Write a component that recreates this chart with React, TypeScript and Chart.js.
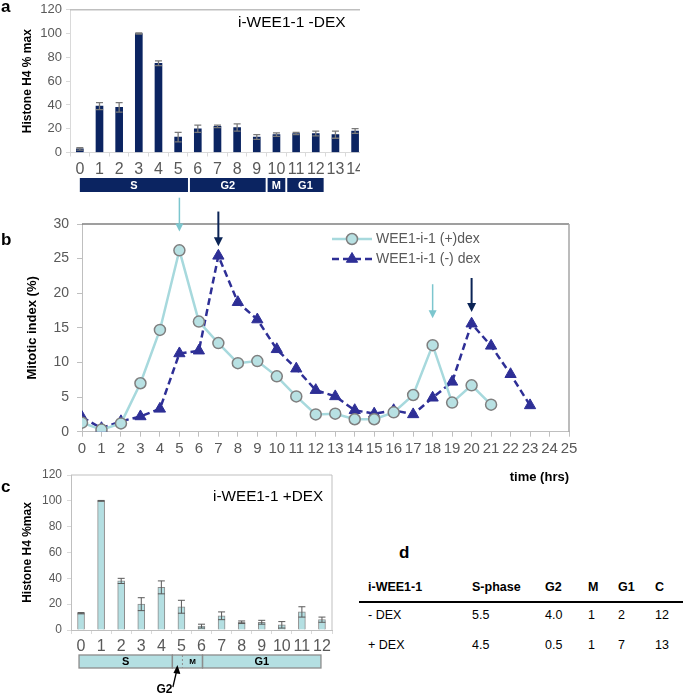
import React, { useEffect, useRef } from 'react';
import { Chart, registerables } from 'chart.js';
Chart.register(...registerables);

const FONT = "'Liberation Sans', Arial, sans-serif";
Chart.defaults.font.family = FONT;

// ---------- Panel a ----------
const hoursA = ['0', '1', '2', '3', '4', '5', '6', '7', '8', '9', '10', '11', '12', '13', '14'];
const h4MinusDex = [3, 39, 38, 100, 75, 13, 20, 22, 21, 13, 15, 16, 16, 15, 18];
const h4MinusDexErr = [1, 3, 4, 0.5, 2, 4, 3, 1, 3, 2, 1.5, 1, 2, 3, 2];
const phaseLabelsA = ['S', 'G2', 'M', 'G1'];
const phaseStartA = [0, 5.6, 9.55, 10.55];
const phaseEndA = [5.5, 9.45, 10.45, 12.4];

// ---------- Panel b ----------
const mitoticPlusDex = [1.3, 0.3, 1.2, 7.0, 14.7, 26.2, 15.9, 12.8, 9.9, 10.2, 8.0, 5.1, 2.5, 2.6, 1.8, 1.8, 2.8, 5.3, 12.5, 4.2, 6.7, 3.9];
const mitoticMinusDex = [2.1, 0.5, 1.5, 2.2, 3.3, 11.3, 11.7, 25.4, 18.7, 16.2, 11.9, 9.1, 6.0, 5.1, 3.1, 2.6, 3.1, 2.5, 4.9, 7.2, 15.6, 12.4, 8.3, 3.8];
const seriesNames = ['WEE1-i-1 (+)dex', 'WEE1-i-1 (-) dex'];
const arrowHoursPlus = [5, 18];
const arrowTailPlus = [33.8, 21.3];
const arrowTipPlus = [28.9, 16.4];
const arrowHoursMinus = [7, 20];
const arrowTailMinus = [31.8, 22.2];
const arrowTipMinus = [26.8, 17.3];

// ---------- Panel c ----------
const hoursC = ['0', '1', '2', '3', '4', '5', '6', '7', '8', '9', '10', '11', '12'];
const h4PlusDex = [13, 100, 38, 20, 33, 18, 3, 11, 6, 6, 4, 14, 8];
const h4PlusDexErr = [0.5, 0.3, 2, 5, 5, 5, 1.5, 3, 1, 1.5, 2.5, 4, 2];
const phaseLabelsC = ['S', '', 'M', 'G1'];
const phaseStartC = [-0.1, 4.55, 5.05, 6.05];
const phaseEndC = [4.55, 5.05, 6.05, 11.95];

// ---------- Panel d ----------
const tableHeader = ['i-WEE1-1', 'S-phase', 'G2', 'M', 'G1', 'C'];
const tableRowMinus = ['- DEX', '5.5', '4.0', '1', '2', '12'];
const tablePlus = ['+ DEX', '4.5', '0.5', '1', '7', '13'];

const NAVY = '#0b2461';
const LIGHT = '#b4dfe2';
const TICK = '#595959';

function errorBars(errors: number[], color: string, lw: number) {
  return {
    id: 'errbars',
    afterDatasetsDraw(chart: any) {
      const meta = chart.getDatasetMeta(0);
      const y = chart.scales.y;
      const ctx = chart.ctx;
      ctx.save();
      ctx.strokeStyle = color;
      ctx.lineWidth = lw;
      meta.data.forEach((bar: any, i: number) => {
        const v = chart.data.datasets[0].data[i] as number;
        const e = errors[i];
        const yt = y.getPixelForValue(v + e);
        const yb = y.getPixelForValue(Math.max(0, v - e));
        const x = bar.x;
        const w = 3.5;
        ctx.beginPath();
        ctx.moveTo(x, yt); ctx.lineTo(x, yb);
        ctx.moveTo(x - w, yt); ctx.lineTo(x + w, yt);
        ctx.moveTo(x - w, yb); ctx.lineTo(x + w, yb);
        ctx.stroke();
      });
      ctx.restore();
    },
  };
}

function ChartCanvas({ config, left, top, width, height }: any) {
  const ref = useRef<HTMLCanvasElement>(null);
  useEffect(() => {
    const chart = new Chart(ref.current as HTMLCanvasElement, config);
    return () => chart.destroy();
  }, []);
  return (
    <canvas
      ref={ref}
      width={width}
      height={height}
      style={{ position: 'absolute', left, top, width, height }}
    />
  );
}

const configA: any = {
  type: 'bar',
  data: {
    labels: hoursA,
    datasets: [{ data: h4MinusDex, backgroundColor: NAVY, barThickness: 7 }],
  },
  options: {
    responsive: false,
    animation: false,
    layout: { padding: { top: 8, right: 0, left: 0, bottom: 0 } },
    plugins: { legend: { display: false }, tooltip: { enabled: false } },
    scales: {
      x: {
        grid: { drawOnChartArea: false, tickLength: 4, color: '#d9d9d9' },
        border: { color: '#d9d9d9' },
        ticks: { color: TICK, font: { size: 16 }, padding: 3, autoSkip: false, maxRotation: 0 },
        afterFit: (s: any) => { s.height = 45.5; },
      },
      y: {
        min: 0, max: 120,
        ticks: { stepSize: 20, color: TICK, font: { size: 13 }, padding: 4 },
        grid: { drawOnChartArea: false, tickLength: 4, color: '#d9d9d9' },
        border: { color: '#d9d9d9' },
        title: { display: true, text: 'Histone H4 % max', color: '#000', font: { size: 12, weight: 'bold' }, padding: { top: 20, bottom: 0 } },
        afterFit: (s: any) => { s.width = 70; },
      },
    },
  },
  plugins: [
    errorBars(h4MinusDexErr, '#7a7a7a', 1.3),
    {
      id: 'phasesA',
      afterDraw(chart: any) {
        const { ctx, chartArea } = chart;
        const x = chart.scales.x;
        ctx.save();
        ctx.strokeStyle = '#bfbfbf';
        ctx.lineWidth = 1.5;
        ctx.beginPath();
        ctx.moveTo(chartArea.left, chartArea.top);
        ctx.lineTo(chartArea.right, chartArea.top);
        ctx.stroke();
        const top = chartArea.bottom + 25.5;
        const h = 14;
        phaseLabelsA.forEach((lab, i) => {
          const x0 = x.getPixelForValue(phaseStartA[i]);
          const x1 = x.getPixelForValue(phaseEndA[i]);
          ctx.fillStyle = NAVY;
          ctx.fillRect(x0, top, x1 - x0, h);
          ctx.fillStyle = '#fff';
          ctx.font = `bold 11px ${FONT}`;
          ctx.textAlign = 'center';
          ctx.textBaseline = 'middle';
          ctx.fillText(lab, (x0 + x1) / 2, top + h / 2 + 0.5);
        });
        ctx.restore();
      },
    },
  ],
};

function drawArrow(ctx: any, x: number, y0: number, y1: number, color: string, lw: number, head: number, hw: number) {
  ctx.strokeStyle = color;
  ctx.fillStyle = color;
  ctx.lineWidth = lw;
  ctx.beginPath();
  ctx.moveTo(x, y0);
  ctx.lineTo(x, y1 - head + 1);
  ctx.stroke();
  ctx.beginPath();
  ctx.moveTo(x - hw, y1 - head);
  ctx.lineTo(x + hw, y1 - head);
  ctx.lineTo(x, y1);
  ctx.closePath();
  ctx.fill();
}

const PLUS_LINE = '#a7d9dd';
const PLUS_FILL = '#b8e1e3';
const MINUS = '#2e2f96';

const configB: any = {
  type: 'line',
  data: {
    datasets: [
      {
        label: seriesNames[0],
        data: mitoticPlusDex.map((v, i) => ({ x: i, y: v })),
        borderColor: PLUS_LINE,
        borderWidth: 2.5,
        pointRadius: 5.5,
        pointBackgroundColor: PLUS_FILL,
        pointBorderColor: '#7f7f7f',
        pointBorderWidth: 1.5,
        tension: 0,
      },
      {
        label: seriesNames[1],
        data: mitoticMinusDex.map((v, i) => ({ x: i, y: v })),
        borderColor: MINUS,
        borderWidth: 2.5,
        borderDash: [7, 4],
        pointStyle: 'triangle',
        pointRadius: 6.5,
        pointBackgroundColor: MINUS,
        pointBorderColor: MINUS,
        pointBorderWidth: 1,
        tension: 0,
      },
    ],
  },
  options: {
    responsive: false,
    animation: false,
    layout: { padding: { top: 29, right: 21, left: 0, bottom: 0 } },
    plugins: { legend: { display: false }, tooltip: { enabled: false } },
    scales: {
      x: {
        type: 'linear', min: 0, max: 25,
        ticks: { stepSize: 1, color: TICK, font: { size: 15 }, padding: 3, autoSkip: false, maxRotation: 0, minRotation: 0 },
        grid: { drawOnChartArea: false, tickLength: 5, color: '#bfbfbf' },
        border: { color: '#bfbfbf' },
        title: { display: true, text: 'time (hrs)', align: 'end', color: '#000', font: { size: 13, weight: 'bold' }, padding: { top: 0, bottom: 0 } },
        afterFit: (s: any) => { s.height = 53.3; },
      },
      y: {
        min: 0, max: 30,
        ticks: { stepSize: 5, color: TICK, font: { size: 14 }, padding: 8 },
        grid: { drawOnChartArea: false, tickLength: 5, color: '#bfbfbf' },
        border: { color: '#bfbfbf' },
        title: { display: true, text: 'Mitotic index (%)', color: '#000', font: { size: 13, weight: 'bold' }, padding: { top: 25, bottom: 0 } },
        afterFit: (s: any) => { s.width = 82; },
      },
    },
  },
  plugins: [
    {
      id: 'decorB',
      afterDraw(chart: any) {
        const { ctx, chartArea } = chart;
        const x = chart.scales.x;
        const y = chart.scales.y;
        ctx.save();
        // frame
        ctx.lineWidth = 1.5;
        ctx.strokeStyle = '#7f7f7f';
        ctx.beginPath();
        ctx.moveTo(chartArea.left, chartArea.top);
        ctx.lineTo(chartArea.right, chartArea.top);
        ctx.stroke();
        ctx.strokeStyle = '#a6a6a6';
        ctx.beginPath();
        ctx.moveTo(chartArea.right, chartArea.top);
        ctx.lineTo(chartArea.right, chartArea.bottom);
        ctx.stroke();
        // arrows
        arrowHoursPlus.forEach((h, i) => {
          drawArrow(ctx, x.getPixelForValue(h), y.getPixelForValue(arrowTailPlus[i]), y.getPixelForValue(arrowTipPlus[i]), '#7cc6ce', 1.5, 8, 4);
        });
        arrowHoursMinus.forEach((h, i) => {
          drawArrow(ctx, x.getPixelForValue(h), y.getPixelForValue(arrowTailMinus[i]), y.getPixelForValue(arrowTipMinus[i]), '#0b2456', 2, 9, 4.5);
        });
        // legend
        const lx0 = chartArea.left + 250;
        const lx1 = chartArea.left + 290;
        const rows = [chartArea.top + 15, chartArea.top + 35];
        chart.data.datasets.forEach((ds: any, i: number) => {
          const ry = rows[i];
          ctx.strokeStyle = ds.borderColor;
          ctx.lineWidth = ds.borderWidth;
          ctx.setLineDash(ds.borderDash || []);
          ctx.beginPath();
          ctx.moveTo(lx0, ry);
          ctx.lineTo(lx1, ry);
          ctx.stroke();
          ctx.setLineDash([]);
          const cx = (lx0 + lx1) / 2;
          ctx.fillStyle = ds.pointBackgroundColor;
          ctx.strokeStyle = ds.pointBorderColor;
          ctx.lineWidth = ds.pointBorderWidth;
          ctx.beginPath();
          if (ds.pointStyle === 'triangle') {
            const r = ds.pointRadius;
            ctx.moveTo(cx, ry - r);
            ctx.lineTo(cx + r * 0.866, ry + r * 0.5);
            ctx.lineTo(cx - r * 0.866, ry + r * 0.5);
            ctx.closePath();
          } else {
            ctx.arc(cx, ry, ds.pointRadius, 0, Math.PI * 2);
          }
          ctx.fill();
          ctx.stroke();
          ctx.fillStyle = TICK;
          ctx.font = `14px ${FONT}`;
          ctx.textAlign = 'left';
          ctx.textBaseline = 'middle';
          ctx.fillText(ds.label, lx1 + 4, ry + 0.5);
        });
        ctx.restore();
      },
    },
  ],
};

const configC: any = {
  type: 'bar',
  data: {
    labels: hoursC,
    datasets: [{ data: h4PlusDex, backgroundColor: LIGHT, borderColor: '#8c8c8c', borderWidth: 1, barThickness: 7 }],
  },
  options: {
    responsive: false,
    animation: false,
    layout: { padding: { top: 13, right: 8, left: 0, bottom: 0 } },
    plugins: { legend: { display: false }, tooltip: { enabled: false } },
    scales: {
      x: {
        grid: { drawOnChartArea: false, tickLength: 4, color: '#d9d9d9' },
        border: { color: '#bfbfbf' },
        ticks: { color: TICK, font: { size: 16 }, padding: 3, autoSkip: false, maxRotation: 0 },
        afterFit: (s: any) => { s.height = 65; },
      },
      y: {
        min: 0, max: 120,
        ticks: { stepSize: 20, color: TICK, font: { size: 12 }, padding: 5 },
        grid: { drawOnChartArea: false, tickLength: 4, color: '#d9d9d9' },
        border: { color: '#bfbfbf' },
        title: { display: true, text: 'Histone H4 %max', color: '#000', font: { size: 12, weight: 'bold' }, padding: { top: 20, bottom: 0 } },
        afterFit: (s: any) => { s.width = 71; },
      },
    },
  },
  plugins: [
    errorBars(h4PlusDexErr, '#595959', 1),
    {
      id: 'phasesC',
      afterDraw(chart: any) {
        const { ctx, chartArea } = chart;
        const x = chart.scales.x;
        ctx.save();
        ctx.strokeStyle = '#bfbfbf';
        ctx.lineWidth = 1;
        ctx.beginPath();
        ctx.moveTo(chartArea.left, chartArea.top);
        ctx.lineTo(chartArea.right, chartArea.top);
        ctx.lineTo(chartArea.right, chartArea.bottom);
        ctx.stroke();
        const top = chartArea.bottom + 25;
        const h = 13;
        const xs = phaseStartC.map((v) => x.getPixelForValue(v));
        const xe = phaseEndC.map((v) => x.getPixelForValue(v));
        ctx.fillStyle = LIGHT;
        ctx.fillRect(xs[0], top, xe[3] - xs[0], h);
        ctx.strokeStyle = '#8c8c8c';
        ctx.lineWidth = 1.3;
        ctx.strokeRect(xs[0], top, xe[0] - xs[0], h);
        ctx.strokeRect(xs[1], top, xe[2] - xs[1], h);
        ctx.strokeRect(xs[3], top, xe[3] - xs[3], h);
        ctx.setLineDash([2, 2]);
        ctx.lineWidth = 1;
        ctx.beginPath();
        ctx.moveTo(xs[2], top);
        ctx.lineTo(xs[2], top + h);
        ctx.stroke();
        ctx.setLineDash([]);
        ctx.fillStyle = '#000';
        ctx.textAlign = 'center';
        ctx.textBaseline = 'middle';
        phaseLabelsC.forEach((lab, i) => {
          if (!lab) return;
          ctx.font = `bold ${lab === 'M' ? 8 : 11}px ${FONT}`;
          ctx.fillText(lab, (xs[i] + xe[i]) / 2, top + h / 2 + 0.5);
        });
        // G2 annotation
        const gx = x.getPixelForValue(4.8);
        ctx.strokeStyle = '#000';
        ctx.fillStyle = '#000';
        ctx.lineWidth = 1.3;
        ctx.beginPath();
        ctx.moveTo(gx - 4.5, chartArea.bottom + 57);
        ctx.lineTo(gx - 1, chartArea.bottom + 42);
        ctx.stroke();
        ctx.beginPath();
        ctx.moveTo(gx, chartArea.bottom + 35);
        ctx.lineTo(gx + 3, chartArea.bottom + 44);
        ctx.lineTo(gx - 4, chartArea.bottom + 43);
        ctx.closePath();
        ctx.fill();
        ctx.font = `bold 12px ${FONT}`;
        ctx.fillText('G2', gx - 13, chartArea.bottom + 60);
        ctx.restore();
      },
    },
  ],
};

const panelLabel: React.CSSProperties = {
  position: 'absolute',
  fontFamily: FONT,
  fontWeight: 'bold',
  fontSize: 17,
  lineHeight: '17px',
  color: '#000',
};

const cellStyle = (x: number, y: number, bold: boolean): React.CSSProperties => ({
  position: 'absolute',
  left: x,
  top: y,
  fontFamily: FONT,
  fontSize: 12.5,
  fontWeight: bold ? 'bold' : 'normal',
  lineHeight: '14px',
  color: '#000',
  whiteSpace: 'nowrap',
});

const colX = [368, 472, 545, 588, 618, 655];

export default function App() {
  useEffect(() => {
    document.body.style.margin = '0';
  }, []);
  return (
    <div style={{ position: 'relative', width: 685, height: 695, background: '#fff', overflow: 'hidden' }}>
      <div style={{ position: 'absolute', left: 0, top: 0, width: 360, height: 200, overflow: 'hidden' }}>
        <ChartCanvas config={configA} left={0} top={-2} width={367} height={200} />
      </div>
      <ChartCanvas config={configB} left={0} top={195} width={590} height={290} />
      <ChartCanvas config={configC} left={0} top={462} width={340} height={233} />

      <div style={{ position: 'absolute', left: 238, top: 13, fontFamily: FONT, fontSize: 15.5, lineHeight: '18px', color: '#000', whiteSpace: 'nowrap' }}>i-WEE1-1 -DEX</div>
      <div style={{ position: 'absolute', left: 213, top: 487, fontFamily: FONT, fontSize: 15.3, lineHeight: '18px', color: '#000', whiteSpace: 'nowrap' }}>i-WEE1-1 +DEX</div>

      <div style={{ ...panelLabel, left: 1, top: -2 }}>a</div>
      <div style={{ ...panelLabel, left: 1, top: 231 }}>b</div>
      <div style={{ ...panelLabel, left: 1, top: 478 }}>c</div>
      <div style={{ ...panelLabel, left: 399, top: 544 }}>d</div>

      {tableHeader.map((t, i) => (
        <div key={'h' + i} style={cellStyle(colX[i], 580, true)}>{t}</div>
      ))}
      <div style={{ position: 'absolute', left: 359, top: 601, width: 324, height: 2, background: '#000' }} />
      {tableRowMinus.map((t, i) => (
        <div key={'m' + i} style={cellStyle(colX[i], 608, false)}>{t}</div>
      ))}
      {tablePlus.map((t, i) => (
        <div key={'p' + i} style={cellStyle(colX[i], 638, false)}>{t}</div>
      ))}
    </div>
  );
}
